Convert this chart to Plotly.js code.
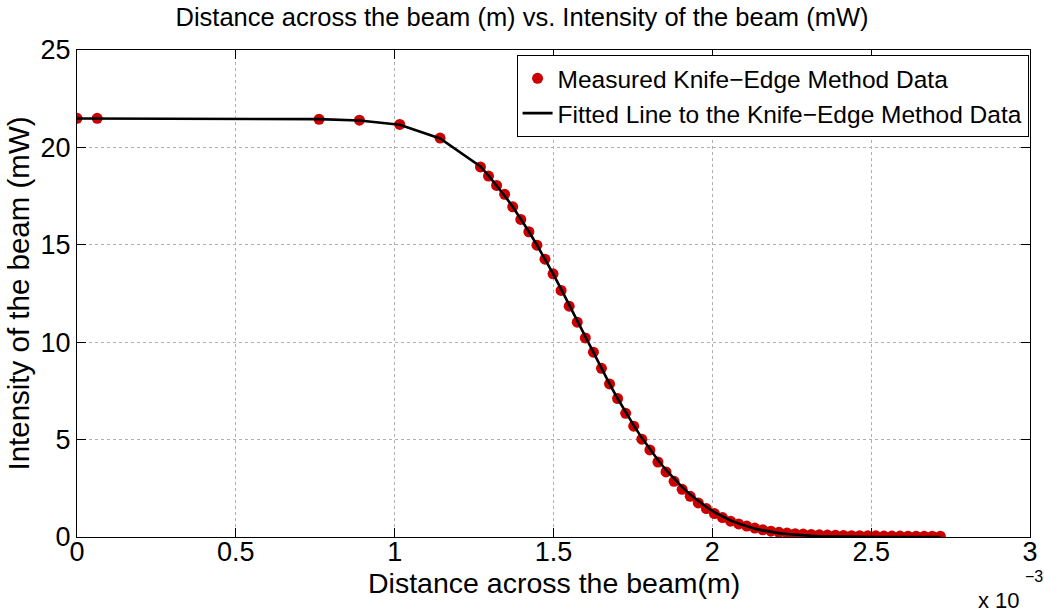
<!DOCTYPE html>
<html>
<head>
<meta charset="utf-8">
<script src="https://cdn.plot.ly/plotly-3.0.1.min.js"></script>
<style>html,body{margin:0;padding:0;background:#fff;}#chart{width:1044px;height:615px;}</style>
</head>
<body>
<div id="chart"></div>
<script>
// Knife-edge positions (m)
const xSparse = [0, 0.0635e-3, 0.762e-3, 0.889e-3, 1.016e-3, 1.143e-3];
const ySparse = [21.49, 21.49, 21.44, 21.40, 21.18, 20.48];
const fitSparse = [21.48, 21.48, 21.45, 21.38, 21.16, 20.46];

const xDenseStart = 1.270e-3;
const xDenseStep = 0.0254e-3;
const yDense = [19.00, 18.53, 18.05, 17.59, 16.95, 16.30, 15.67, 14.98, 14.26, 13.51,
  12.66, 11.85, 11.03, 10.22, 9.49, 8.66, 7.86, 7.11, 6.35, 5.69,
  5.02, 4.47, 3.85, 3.34, 2.86, 2.45, 2.09, 1.75, 1.46, 1.20,
  1.00, 0.81, 0.67, 0.56, 0.46, 0.37, 0.30, 0.24, 0.20, 0.17,
  0.15, 0.13, 0.11, 0.10, 0.09, 0.08, 0.07, 0.07, 0.06, 0.06,
  0.05, 0.05, 0.05, 0.04, 0.04, 0.04, 0.04, 0.04];
const fitDense = [19.02, 18.55, 18.05, 17.52, 16.95, 16.33, 15.68, 14.99, 14.27, 13.52,
  12.72, 11.90, 11.08, 10.25, 9.44, 8.64, 7.86, 7.11, 6.40, 5.73,
  5.09, 4.50, 3.95, 3.44, 2.98, 2.56, 2.18, 1.84, 1.54, 1.28,
  1.05, 0.85, 0.69, 0.55, 0.43, 0.34, 0.26, 0.20, 0.15, 0.11,
  0.08, 0.06, 0.04, 0.03, 0.02, 0.02, 0.01, 0.01, 0.01, 0.00,
  0.00, 0.00, 0.00, 0.00, 0.00, 0.00, 0.00, 0.00];

const xDense = yDense.map((_, i) => xDenseStart + i * xDenseStep);
const xData = xSparse.concat(xDense);
const yData = ySparse.concat(yDense);
const yFit = fitSparse.concat(fitDense);

const xTickVals = [0, 0.5e-3, 1e-3, 1.5e-3, 2e-3, 2.5e-3, 3e-3];
const xTickText = ['0', '0.5', '1', '1.5', '2', '2.5', '3'];
const yTickVals = [0, 5, 10, 15, 20, 25];

const FONT = 'Liberation Sans, Arial, Helvetica, sans-serif';

const traces = [
  {
    x: xData, y: yData, type: 'scatter', mode: 'markers',
    name: 'Measured Knife\u2212Edge Method Data',
    marker: {color: '#cc0000', size: 11, line: {width: 0}}
  },
  {
    x: xData, y: yFit, type: 'scatter', mode: 'lines',
    name: 'Fitted Line to the Knife\u2212Edge Method Data',
    line: {color: '#000000', width: 2.6}
  }
];

const layout = {
  width: 1044, height: 615,
  margin: {l: 77, r: 14, t: 50, b: 78},
  paper_bgcolor: '#ffffff', plot_bgcolor: '#ffffff',
  font: {family: FONT, color: '#000', size: 22},
  title: {text: 'Distance across the beam (m) vs. Intensity of the beam (mW)',
          font: {family: FONT, size: 25.5, color: '#000'}, x: 0.5, xanchor: 'center', y: 0.972, yanchor: 'middle'},
  showlegend: true,
  legend: {x: 0.9985, xanchor: 'right', y: 0.99, yanchor: 'top',
           bgcolor: '#ffffff', bordercolor: '#000', borderwidth: 1,
           font: {family: FONT, size: 24.5, color: '#000'}, tracegroupgap: 0, itemwidth: 30},
  xaxis: {
    range: [0, 3e-3], tickvals: xTickVals, ticktext: xTickText,
    showline: true, linecolor: '#000', linewidth: 1, mirror: 'ticks',
    ticks: 'inside', ticklen: 9, tickcolor: '#000',
    ticklabelstandoff: -9,
    showgrid: true, gridcolor: '#b0b0b0', griddash: 'dot', gridwidth: 1,
    zeroline: false,
    tickfont: {family: FONT, size: 27, color: '#000'}
  },
  yaxis: {
    range: [0, 25], tickvals: yTickVals,
    showline: true, linecolor: '#000', linewidth: 1, mirror: 'ticks',
    ticks: 'inside', ticklen: 9, tickcolor: '#000',
    showgrid: true, gridcolor: '#b0b0b0', griddash: 'dot', gridwidth: 1,
    zeroline: false,
    tickfont: {family: FONT, size: 27, color: '#000'},
    title: {text: 'Intensity of the beam (mW)', font: {family: FONT, size: 29.5, color: '#000'}, standoff: 2}
  },
  annotations: [
    {text: 'Distance across the beam(m)', xref: 'paper', yref: 'paper',
     x: 0.5, xanchor: 'center', y: -0.094, yanchor: 'middle', showarrow: false,
     font: {family: FONT, size: 28.5, color: '#000'}},
    {text: 'x 10', xref: 'paper', yref: 'paper',
     x: 0.992, xanchor: 'right', y: -0.13, yanchor: 'middle', showarrow: false,
     font: {family: FONT, size: 22, color: '#000'}},
    {text: '\u22123', xref: 'paper', yref: 'paper',
     x: 0.993, xanchor: 'left', y: -0.082, yanchor: 'middle', showarrow: false,
     font: {family: FONT, size: 16, color: '#000'}}
  ]
};

Plotly.newPlot('chart', traces, layout, {staticPlot: true, displayModeBar: false});
</script>
</body>
</html>
